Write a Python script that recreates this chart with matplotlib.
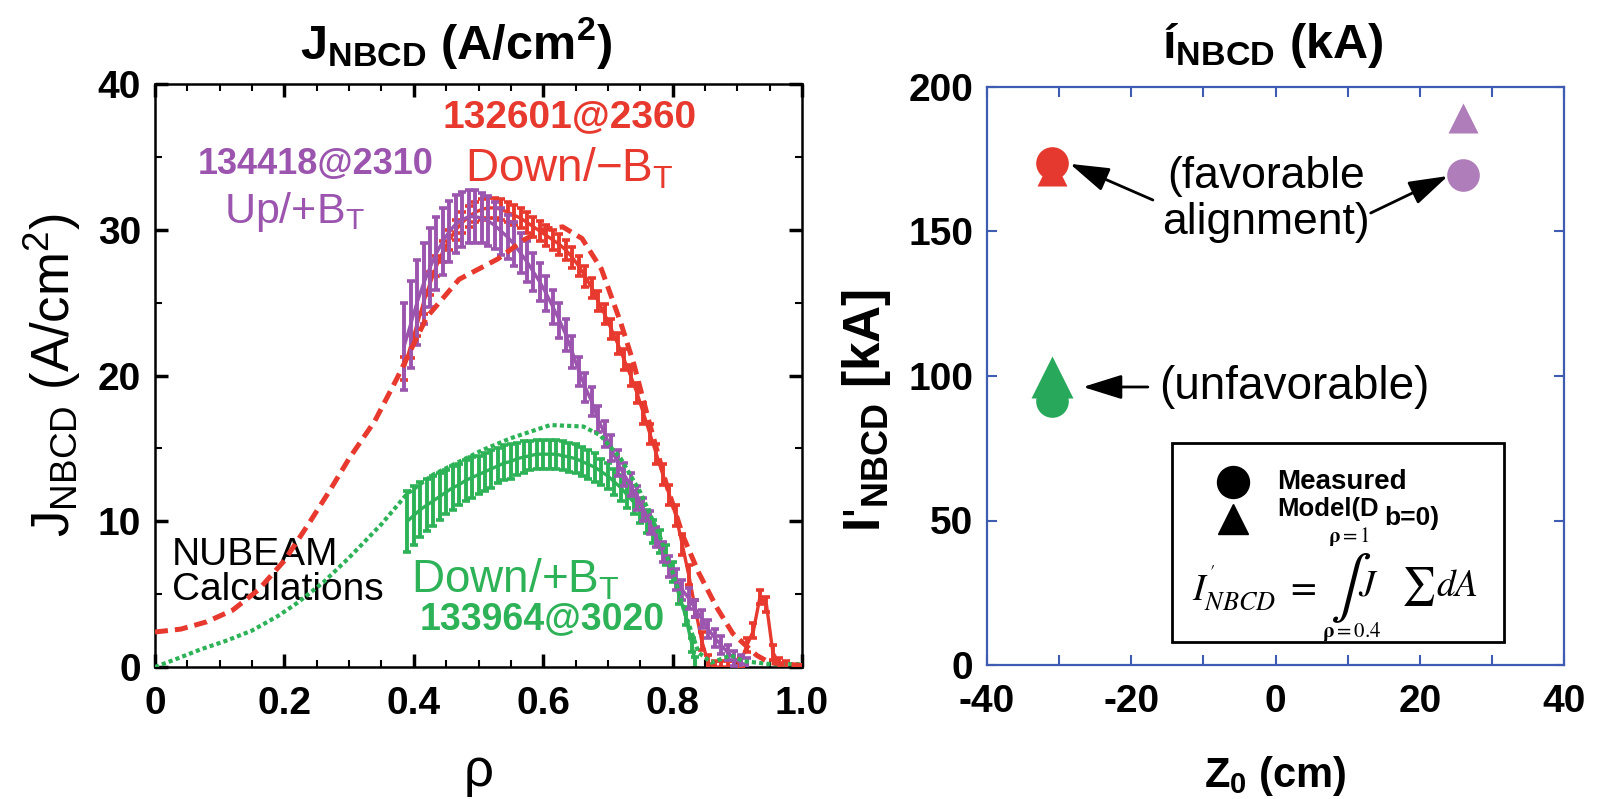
import numpy as np
import matplotlib
matplotlib.use("Agg")
import matplotlib.pyplot as plt
from matplotlib.patches import Rectangle
from matplotlib.ticker import MultipleLocator

plt.rcParams['font.family'] = ['Liberation Sans', 'DejaVu Sans']
plt.rcParams['mathtext.fontset'] = 'custom'
plt.rcParams['mathtext.rm'] = 'Liberation Sans'
plt.rcParams['mathtext.it'] = 'Liberation Sans:italic'
plt.rcParams['mathtext.bf'] = 'Liberation Sans:bold'

# ---------------- data: left panel ----------------
rho_purple = [0.385, 0.395, 0.405, 0.415, 0.425, 0.435, 0.445, 0.455, 0.465, 0.475,
              0.485, 0.495, 0.505, 0.515, 0.525, 0.535, 0.545, 0.555, 0.565, 0.575,
              0.585, 0.595, 0.605, 0.615, 0.625, 0.635, 0.645, 0.655, 0.665, 0.675,
              0.685, 0.695, 0.705, 0.715, 0.725, 0.735, 0.745, 0.755, 0.765, 0.775,
              0.785, 0.795, 0.805, 0.815, 0.825, 0.835, 0.845, 0.855, 0.865, 0.875,
              0.885, 0.895, 0.905, 0.915]
j_purple = [22.0, 23.5, 25.0, 26.3, 27.4, 28.4, 29.2, 29.9, 30.4, 30.7,
            30.9, 30.9, 30.8, 30.6, 30.3, 29.9, 29.5, 29.0, 28.4, 27.8,
            27.1, 26.4, 25.6, 24.7, 23.8, 22.8, 21.6, 20.3, 19.2, 18.2,
            17.0, 16.0, 15.0, 14.0, 13.2, 12.5, 11.6, 10.8, 9.9, 8.9,
            7.9, 6.9, 6.0, 5.3, 4.7, 4.0, 3.3, 2.6, 2.0, 1.5,
            1.0, 0.6, 0.3, 0.1]
err_purple = [3.0, 3.0, 2.9, 2.8, 2.7, 2.5, 2.3, 2.1, 2.0, 1.9,
              1.8, 1.8, 1.7, 1.7, 1.6, 1.6, 1.5, 1.5, 1.4, 1.4,
              1.3, 1.3, 1.2, 1.2, 1.2, 1.1, 1.1, 1.0, 1.0, 1.0,
              0.9, 0.9, 0.9, 0.9, 0.8, 0.8, 0.8, 0.8, 0.8, 0.7,
              0.7, 0.7, 0.7, 0.7, 0.7, 0.6, 0.6, 0.6, 0.6, 0.6,
              0.5, 0.5, 0.5, 0.5]

rho_red = [0.385, 0.395, 0.405, 0.415, 0.425, 0.435, 0.445, 0.455, 0.465, 0.475,
           0.485, 0.495, 0.505, 0.515, 0.525, 0.535, 0.545, 0.555, 0.565, 0.575,
           0.585, 0.595, 0.605, 0.615, 0.625, 0.635, 0.645, 0.655, 0.665, 0.675,
           0.685, 0.695, 0.705, 0.715, 0.725, 0.735, 0.745, 0.755, 0.765, 0.775,
           0.785, 0.795, 0.805, 0.815, 0.825, 0.835, 0.845, 0.855, 0.865, 0.875,
           0.885, 0.895, 0.905, 0.915, 0.925, 0.935, 0.945, 0.955, 0.965, 0.975]
j_red = [20.5, 22.0, 23.5, 25.0, 26.3, 27.5, 28.5, 29.3, 30.0, 30.5,
         30.9, 31.2, 31.4, 31.5, 31.5, 31.4, 31.2, 31.0, 30.8, 30.5,
         30.2, 29.9, 29.6, 29.3, 29.0, 28.6, 28.1, 27.5, 26.8, 26.0,
         25.1, 24.2, 23.2, 22.2, 21.1, 20.0, 18.8, 17.4, 16.0, 14.6,
         13.2, 11.8, 10.4, 8.4, 6.3, 4.0, 1.8, 0.3, 0.0, 0.0,
         0.0, 0.0, 0.3, 1.5, 2.5, 4.8, 4.3, 1.0, 0.2, 0.0]
err_red = [0.8, 0.8, 0.8, 0.8, 0.8, 0.7, 0.7, 0.7, 0.7, 0.7,
           0.7, 0.7, 0.7, 0.7, 0.7, 0.7, 0.7, 0.7, 0.7, 0.7,
           0.7, 0.7, 0.7, 0.7, 0.7, 0.7, 0.7, 0.7, 0.7, 0.7,
           0.7, 0.7, 0.7, 0.7, 0.7, 0.7, 0.7, 0.7, 0.7, 0.7,
           0.7, 0.7, 0.7, 0.7, 0.7, 0.6, 0.6, 0.5, 0.4, 0.4,
           0.4, 0.4, 0.4, 0.5, 0.5, 0.5, 0.5, 0.5, 0.4, 0.4]

rho_green = [0.39, 0.40, 0.41, 0.42, 0.43, 0.44, 0.45, 0.46, 0.47, 0.48,
             0.49, 0.50, 0.51, 0.52, 0.53, 0.54, 0.55, 0.56, 0.57, 0.58,
             0.59, 0.60, 0.61, 0.62, 0.63, 0.64, 0.65, 0.66, 0.67, 0.68,
             0.69, 0.70, 0.71, 0.72, 0.73, 0.74, 0.75, 0.76, 0.77, 0.78,
             0.79, 0.80, 0.81, 0.82, 0.83, 0.835]
j_green = [10.0, 10.4, 10.8, 11.1, 11.4, 11.7, 12.0, 12.3, 12.5, 12.8,
           13.0, 13.2, 13.4, 13.6, 13.8, 14.0, 14.1, 14.3, 14.4, 14.5,
           14.6, 14.6, 14.6, 14.6, 14.5, 14.4, 14.3, 14.1, 13.9, 13.7,
           13.4, 13.1, 12.7, 12.3, 11.8, 11.3, 10.7, 10.0, 9.3, 8.6,
           7.7, 6.5, 5.0, 3.5, 1.5, 0.3]
err_green = [2.1, 2.0, 1.9, 1.8, 1.7, 1.6, 1.5, 1.5, 1.4, 1.4,
             1.4, 1.3, 1.3, 1.3, 1.2, 1.2, 1.2, 1.1, 1.1, 1.0,
             1.0, 1.0, 1.0, 1.0, 1.0, 1.0, 1.0, 1.0, 1.0, 1.0,
             0.9, 0.9, 0.9, 0.9, 0.9, 0.8, 0.8, 0.8, 0.8, 0.8,
             0.7, 0.7, 0.7, 0.6, 0.5, 0.4]

rho_red_model = [0.0, 0.04, 0.08, 0.12, 0.16, 0.20, 0.24, 0.27, 0.30, 0.34,
                 0.374, 0.42, 0.47, 0.53, 0.57, 0.60, 0.63, 0.66, 0.69, 0.72,
                 0.74, 0.765, 0.79, 0.816, 0.84, 0.868, 0.893, 0.91, 0.93, 0.95,
                 1.0]
j_red_model = [2.4, 2.6, 3.1, 3.9, 5.3, 7.3, 10.0, 12.1, 14.3, 16.9,
               19.8, 24.0, 26.6, 28.0, 29.3, 30.0, 30.2, 29.4, 27.3, 23.6,
               20.8, 16.6, 12.6, 9.0, 6.5, 4.1, 2.3, 1.6, 0.8, 0.3,
               0.1]

rho_green_model = [0.0, 0.03, 0.07, 0.11, 0.15, 0.19, 0.22, 0.26, 0.30, 0.35,
                   0.39, 0.43, 0.507, 0.55, 0.611, 0.662, 0.688, 0.72, 0.75, 0.78,
                   0.80, 0.82, 0.84, 0.86, 0.89, 0.91, 0.95, 1.0]
j_green_model = [0.0, 0.5, 1.2, 1.8, 2.5, 3.5, 4.4, 5.8, 7.5, 9.8,
                 11.9, 13.2, 14.9, 15.7, 16.6, 16.5, 15.9, 14.3, 12.0, 9.0,
                 6.5, 3.6, 1.0, 0.3, 0.8, 0.4, 0.2, 0.2]

xticks_left = [0, 0.2, 0.4, 0.6, 0.8, 1.0]
xticklabels_left = ["0", "0.2", "0.4", "0.6", "0.8", "1.0"]
yticks_left = [0, 10, 20, 30, 40]

# ---------------- data: right panel ----------------
z0 = [-31, -31, 26]
i_measured = [173.7, 91.5, 169.6]
i_model = [170.8, 99.5, 189.3]
point_colors = ['#E5392F', '#27A85B', '#AF7DB9']
xticks_right = [-40, -20, 0, 20, 40]
yticks_right = [0, 50, 100, 150, 200]

RED = '#E8392F'
PURPLE = '#9B55AE'
GREEN = '#2EB257'
BLUE = '#3E5CB2'

fig = plt.figure(figsize=(16.04, 7.99), dpi=100)
ax1 = fig.add_axes([155 / 1604, 132 / 799, 647 / 1604, 583 / 799])
ax2 = fig.add_axes([987 / 1604, 134 / 799, 577 / 1604, 578 / 799])

# ---------- left panel ----------
eb_kw = dict(lw=2.4, elinewidth=2.8, capsize=3.0, capthick=2.6)
ax1.errorbar(rho_green, j_green, yerr=err_green, color=GREEN, zorder=2, **eb_kw)
ax1.errorbar(rho_red, j_red, yerr=err_red, color=RED, zorder=3, **eb_kw)
ax1.errorbar(rho_purple, j_purple, yerr=err_purple, color=PURPLE, zorder=4, **eb_kw)
ax1.plot(rho_green_model, j_green_model, color=GREEN, lw=3.0,
         dashes=(1.0, 0.75), zorder=5)
ax1.plot(rho_red_model, j_red_model, color=RED, lw=3.6,
         dashes=(2.6, 1.4), zorder=6)

ax1.set_xlim(0, 1.0)
ax1.set_ylim(0, 40)
ax1.set_xticks(xticks_left)
ax1.set_xticklabels(xticklabels_left, fontweight='bold')
ax1.set_yticks(yticks_left)
ax1.set_yticklabels([str(v) for v in yticks_left], fontweight='bold')
ax1.xaxis.set_minor_locator(MultipleLocator(0.05))
ax1.yaxis.set_minor_locator(MultipleLocator(5))
ax1.tick_params(which='both', direction='in', top=True, right=True,
                labelsize=28, color='black')
ax1.tick_params(which='major', length=9.5, width=2.5)
ax1.tick_params(which='minor', length=5, width=1.5)
ax1.tick_params(axis='y', pad=10)
ax1.tick_params(axis='x', pad=14)
for s in ax1.spines.values():
    s.set_linewidth(1.8)

ax1.set_ylabel(r"J$_{\mathrm{NBCD}}$ (A/cm$^{2}$)", fontsize=38)
ax1.yaxis.set_label_coords(-0.112, 0.5)
ax1.set_xlabel("ρ", fontsize=38, labelpad=18)
ax1.text(0.465, 1.07, r"J$_{\mathbf{NBCD}}$ (A/cm$^{\mathbf{2}}$)", transform=ax1.transAxes,
         ha='center', va='center', fontsize=35, fontweight='bold')

ax1.text(0.64, 37.7, "132601@2360", color=RED, fontsize=28, fontweight='bold',
         ha='center', va='center')
ax1.text(0.64, 34.2, r"Down/−B$_{\mathrm{T}}$", color=RED, fontsize=33,
         ha='center', va='center')
ax1.text(0.249, 34.5, "134418@2310", color=PURPLE, fontsize=26, fontweight='bold',
         ha='center', va='center')
ax1.text(0.216, 31.2, r"Up/+B$_{\mathrm{T}}$", color=PURPLE, fontsize=31,
         ha='center', va='center')
ax1.text(0.026, 6.5, "NUBEAM\nCalculations", color='black', fontsize=28,
         ha='left', va='center', linespacing=0.95)
ax1.text(0.395, 5.97, r"Down/+B$_{\mathrm{T}}$", color=GREEN, fontsize=33,
         ha='left', va='center')
ax1.text(0.598, 3.3, "133964@3020", color=GREEN, fontsize=27, fontweight='bold',
         ha='center', va='center')

# ---------- right panel ----------
for x, ym, yt, c in zip(z0, i_measured, i_model, point_colors):
    tsize = 30 if c == '#27A85B' else 22
    ax2.plot([x], [yt], marker='^', ms=tsize, color=c, mec='none', ls='none', zorder=3)
    ax2.plot([x], [ym], marker='o', ms=23.5, color=c, mec='none', ls='none', zorder=4)

ax2.set_xlim(-40, 40)
ax2.set_ylim(0, 200)
ax2.set_xticks(xticks_right)
ax2.set_xticklabels([str(v) for v in xticks_right], fontweight='bold')
ax2.set_yticks(yticks_right)
ax2.set_yticklabels([str(v) for v in yticks_right], fontweight='bold')
ax2.xaxis.set_minor_locator(MultipleLocator(10))
ax2.tick_params(which='both', direction='in', top=True, right=True,
                labelsize=28, color=BLUE, labelcolor='black', length=7, width=1.5)
ax2.tick_params(axis='y', pad=10)
ax2.tick_params(axis='x', pad=14)
for s in ax2.spines.values():
    s.set_color(BLUE)
    s.set_linewidth(1.6)

ax2.set_ylabel(r"I$'_{\mathbf{NBCD}}$ [kA]", fontsize=37, fontweight='bold')
ax2.yaxis.set_label_coords(-0.163, 0.44)
ax2.set_xlabel(r"Z$_{\mathbf{0}}$ (cm)", fontsize=30, fontweight='bold', labelpad=24)
ax2.text(0.495, 1.072, r"í$_{\mathbf{NBCD}}$ (kA)", transform=ax2.transAxes,
         ha='center', va='center', fontsize=35, fontweight='bold')

arrow_kw = dict(arrowstyle='-|>,head_length=0.8,head_width=0.25',
                color='black', lw=2.0, mutation_scale=30, shrinkA=0, shrinkB=0)
ax2.text(-1.3, 161, "(favorable\nalignment)", fontsize=32, ha='center', va='center',
         linespacing=1.15)
ax2.annotate("", xy=(-28.5, 173.4), xytext=(-17.0, 160.9), arrowprops=arrow_kw)
ax2.annotate("", xy=(23.9, 169.2), xytext=(13.2, 156.4), arrowprops=arrow_kw)
ax2.text(-16.2, 96.2, "(unfavorable)", fontsize=33, ha='left', va='center')
ax2.annotate("", xy=(-26.7, 96.2), xytext=(-17.7, 96.2), arrowprops=arrow_kw)

# legend-like box
ax2.add_patch(Rectangle((0.321, 0.040), 0.575, 0.344, transform=ax2.transAxes,
                        facecolor='white', edgecolor='black', lw=2.0, zorder=5))
ax2.plot([0.426], [0.317], marker='o', ms=23, color='black', transform=ax2.transAxes,
         ls='none', zorder=6)
ax2.plot([0.426], [0.253], marker='^', ms=21, color='black', transform=ax2.transAxes,
         ls='none', zorder=6)
ax2.text(0.503, 0.317, "Measured", transform=ax2.transAxes, fontsize=20,
         fontweight='bold', ha='left', va='center', zorder=7)
ax2.text(0.503, 0.270, "Model(D", transform=ax2.transAxes, fontsize=18.5,
         fontweight='bold', ha='left', va='center', zorder=7)
ax2.text(0.688, 0.255, "b=0)", transform=ax2.transAxes, fontsize=19,
         fontweight='bold', ha='left', va='center', zorder=7)
ax2.text(0.355, 0.135, r"$I^{'}_{NBCD}\ =$", transform=ax2.transAxes,
         fontsize=27, math_fontfamily='stix', ha='left', va='center', zorder=7)
ax2.text(0.620, 0.135, "∫", transform=ax2.transAxes, family='STIXGeneral',
         fontsize=44, ha='center', va='center', zorder=7)
ax2.text(0.643, 0.135, r"$J\ \ \ \sum dA$", transform=ax2.transAxes,
         fontsize=27, math_fontfamily='stix', ha='left', va='center', zorder=7)
ax2.text(0.628, 0.222, r"$\mathbf{\rho} = 1$", transform=ax2.transAxes,
         fontsize=15, math_fontfamily='stix', ha='center', va='center', zorder=7)
ax2.text(0.632, 0.058, r"$\mathbf{\rho} = 0.4$", transform=ax2.transAxes,
         fontsize=15, math_fontfamily='stix', ha='center', va='center', zorder=7)

fig.savefig("out.png", dpi=100)
